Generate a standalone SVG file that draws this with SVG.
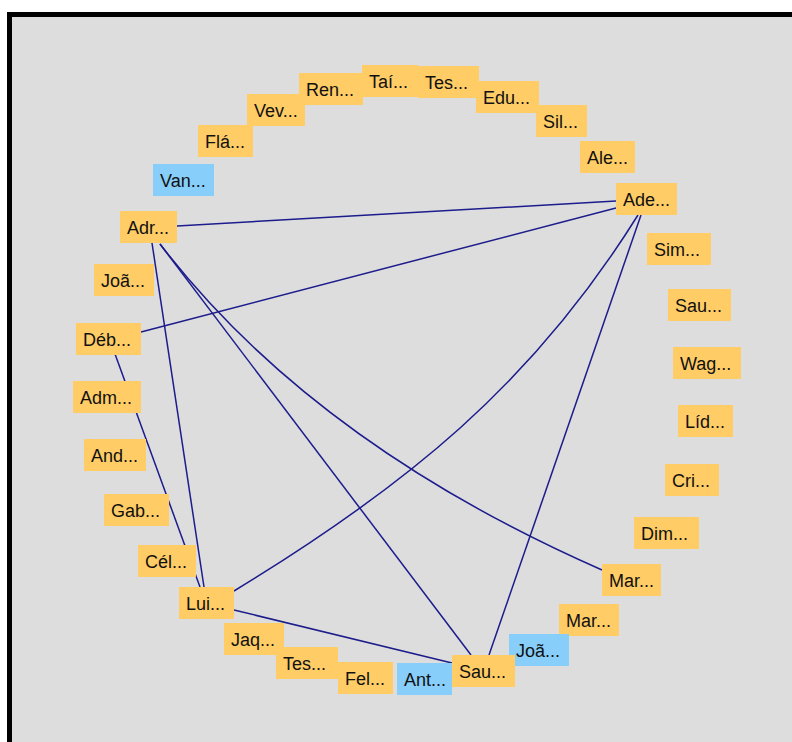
<svg xmlns="http://www.w3.org/2000/svg" width="792" height="742" viewBox="0 0 792 742">
<style>
.bg{fill:#dddddd}
.o{fill:#ffcc66}
.b{fill:#87cefa}
.t{font-family:"Liberation Sans",Arial,sans-serif;font-size:18px;fill:#111111}
.e{fill:none;stroke:#1c1c8c;stroke-width:1.5}
</style>
<rect x="0" y="0" width="792" height="742" fill="#ffffff"/>
<rect x="7" y="12" width="785" height="730" fill="#000000"/>
<rect class="bg" x="12" y="17" width="780" height="725"/>
<g id="edges">
<path class="e" d="M177,226 L616,201"/>
<path class="e" d="M141,332 L616,208"/>
<path class="e" d="M638,215 C532,385 405,487 234,591"/>
<path class="e" d="M641,215 L489,655"/>
<path class="e" d="M160,244 Q313,443 602,570"/>
<path class="e" d="M160,244 L471,655"/>
<path class="e" d="M152,243 L204,587"/>
<path class="e" d="M115,354 L200,587"/>
<path class="e" d="M234,610 L452,663"/>
</g>
<g id="n_van"><rect class="b" x="153" y="164" width="61" height="32"/><text class="t" x="160" y="187">Van...</text></g>
<g id="n_fla"><rect class="o" x="198" y="125" width="55" height="32"/><text class="t" x="205" y="148">Flá...</text></g>
<g id="n_vev"><rect class="o" x="247" y="94" width="58" height="32"/><text class="t" x="254" y="117">Vev...</text></g>
<g id="n_ren"><rect class="o" x="299" y="73" width="64" height="32"/><text class="t" x="306" y="96">Ren...</text></g>
<g id="n_tai"><rect class="o" x="362" y="65" width="56" height="32"/><text class="t" x="369" y="88">Taí...</text></g>
<g id="n_tes1"><rect class="o" x="418" y="66" width="61" height="32"/><text class="t" x="425" y="89">Tes...</text></g>
<g id="n_edu"><rect class="o" x="476" y="81" width="63" height="32"/><text class="t" x="483" y="104">Edu...</text></g>
<g id="n_sil"><rect class="o" x="536" y="105" width="51" height="32"/><text class="t" x="543" y="128">Sil...</text></g>
<g id="n_ale"><rect class="o" x="580" y="141" width="55" height="32"/><text class="t" x="587" y="164">Ale...</text></g>
<g id="n_ade"><rect class="o" x="616" y="183" width="61" height="32"/><text class="t" x="623" y="206">Ade...</text></g>
<g id="n_sim"><rect class="o" x="647" y="233" width="64" height="32"/><text class="t" x="654" y="256">Sim...</text></g>
<g id="n_sau1"><rect class="o" x="668" y="289" width="63" height="32"/><text class="t" x="675" y="312">Sau...</text></g>
<g id="n_wag"><rect class="o" x="673" y="347" width="68" height="32"/><text class="t" x="680" y="370">Wag...</text></g>
<g id="n_lid"><rect class="o" x="678" y="405" width="55" height="32"/><text class="t" x="685" y="428">Líd...</text></g>
<g id="n_cri"><rect class="o" x="665" y="464" width="54" height="32"/><text class="t" x="672" y="487">Cri...</text></g>
<g id="n_dim"><rect class="o" x="634" y="517" width="65" height="32"/><text class="t" x="641" y="540">Dim...</text></g>
<g id="n_mar1"><rect class="o" x="602" y="564" width="59" height="32"/><text class="t" x="609" y="587">Mar...</text></g>
<g id="n_mar2"><rect class="o" x="559" y="604" width="60" height="32"/><text class="t" x="566" y="627">Mar...</text></g>
<g id="n_joa1"><rect class="b" x="509" y="634" width="60" height="32"/><text class="t" x="516" y="657">Joã...</text></g>
<g id="n_sau2"><rect class="o" x="452" y="655" width="63" height="32"/><text class="t" x="459" y="678">Sau...</text></g>
<g id="n_ant"><rect class="b" x="397" y="663" width="55" height="32"/><text class="t" x="404" y="686">Ant...</text></g>
<g id="n_fel"><rect class="o" x="338" y="662" width="55" height="32"/><text class="t" x="345" y="685">Fel...</text></g>
<g id="n_jaq"><rect class="o" x="224" y="623" width="60" height="32"/><text class="t" x="231" y="646">Jaq...</text></g>
<g id="n_tes2"><rect class="o" x="276" y="647" width="62" height="32"/><text class="t" x="283" y="670">Tes...</text></g>
<g id="n_lui"><rect class="o" x="179" y="587" width="55" height="32"/><text class="t" x="186" y="610">Lui...</text></g>
<g id="n_cel"><rect class="o" x="138" y="545" width="58" height="32"/><text class="t" x="145" y="568">Cél...</text></g>
<g id="n_gab"><rect class="o" x="104" y="494" width="65" height="32"/><text class="t" x="111" y="517">Gab...</text></g>
<g id="n_and"><rect class="o" x="84" y="439" width="62" height="32"/><text class="t" x="91" y="462">And...</text></g>
<g id="n_adm"><rect class="o" x="73" y="381" width="68" height="32"/><text class="t" x="80" y="404">Adm...</text></g>
<g id="n_deb"><rect class="o" x="76" y="323" width="65" height="32"/><text class="t" x="83" y="346">Déb...</text></g>
<g id="n_joa2"><rect class="o" x="94" y="264" width="60" height="32"/><text class="t" x="101" y="287">Joã...</text></g>
<g id="n_adr"><rect class="o" x="120" y="211" width="57" height="32"/><text class="t" x="127" y="234">Adr...</text></g>
</svg>
